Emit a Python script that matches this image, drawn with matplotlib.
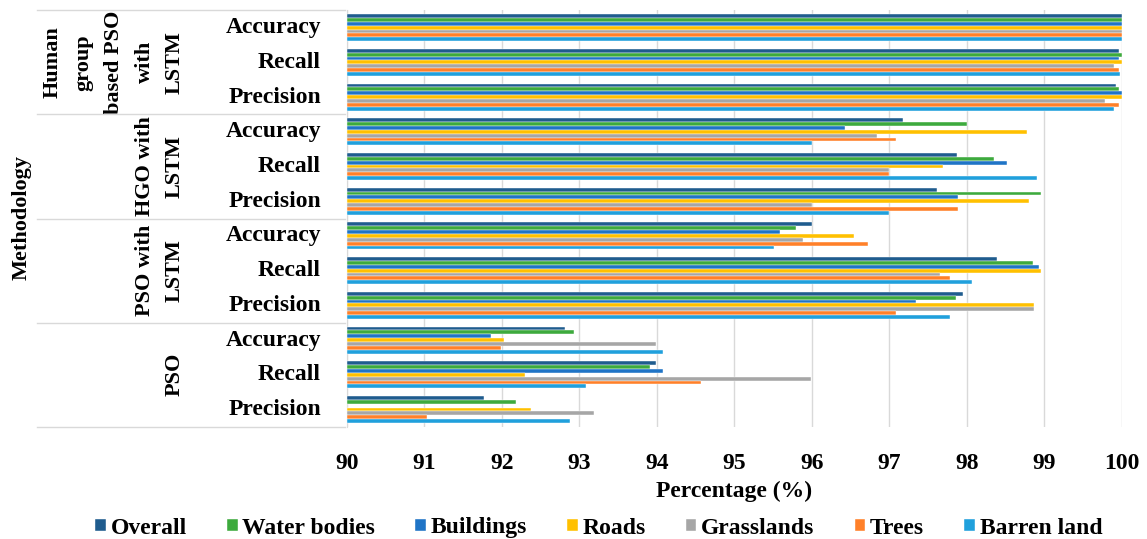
import numpy as np
import matplotlib
matplotlib.use('Agg')
import matplotlib.pyplot as plt
from matplotlib.transforms import blended_transform_factory
from matplotlib.lines import Line2D

plt.rcParams['font.family'] = ['Liberation Serif', 'DejaVu Serif']
plt.rcParams['font.weight'] = 'bold'

methods = ["Human\ngroup\nbased PSO\nwith\nLSTM", "HGO with\nLSTM", "PSO with\nLSTM", "PSO"]
metrics = ["Accuracy", "Recall", "Precision"]
series = ["Overall", "Water bodies", "Buildings", "Roads", "Grasslands", "Trees", "Barren land"]
colors = ["#1F5C8E", "#3DAA3D", "#1F74C6", "#FFC000", "#A6A6A6", "#FF8029", "#20A0DC"]

# rows: method x metric (top to bottom), columns: series
hgpso = [[100.0, 100.0, 100.0, 100.0, 100.0, 100.0, 100.0],
         [99.97, 100.0, 99.97, 100.0, 99.9, 99.97, 99.98],
         [99.92, 99.97, 100.0, 100.0, 99.78, 99.97, 99.9]]
hgo = [[97.18, 98.0, 96.43, 98.78, 96.84, 97.09, 96.0],
       [97.87, 98.35, 98.52, 97.69, 97.0, 97.0, 98.91],
       [97.61, 98.96, 97.88, 98.8, 96.0, 97.88, 97.0]]
pso_lstm = [[96.0, 95.79, 95.59, 96.55, 95.89, 96.73, 95.51],
            [98.39, 98.86, 98.93, 98.96, 97.66, 97.78, 98.07],
            [97.95, 97.86, 97.34, 98.87, 98.87, 97.08, 97.78]]
pso = [[92.82, 92.93, 91.86, 92.03, 93.99, 91.99, 94.08],
       [93.99, 93.91, 94.08, 92.3, 95.99, 94.57, 93.08],
       [91.77, 92.18, 89.5, 92.38, 93.19, 91.03, 92.88]]

data = np.array(hgpso + hgo + pso_lstm + pso)

fig = plt.figure(figsize=(11.47, 5.39), dpi=100)
ax = fig.add_axes([0.3025, 0.208, 0.6755, 0.773])

n = len(series)
group_h = 0.78
bh = group_h / n
ypos = np.arange(data.shape[0])
for j in range(n):
    off = -group_h / 2 + bh * (j + 0.5)
    ax.barh(ypos + off, data[:, j] - 90, left=90, height=bh, color=colors[j],
            edgecolor='white', linewidth=0.3, label=series[j], zorder=3)

fs = 17
ax.set_xlim(90, 100)
ax.set_ylim(11.5, -0.5)
ax.set_xticks(np.arange(90, 101, 1))
ax.tick_params(axis='x', length=0, labelsize=fs, pad=19)
ax.tick_params(axis='y', length=0)
ax.set_yticks([])
ax.grid(axis='x', color='#D9D9D9', linewidth=1, zorder=0)
for s in ['top', 'right', 'bottom']:
    ax.spines[s].set_visible(False)
ax.spines['left'].set_color('#D9D9D9')
ax.set_xlabel("Percentage (%)", fontsize=fs, fontweight='bold', labelpad=5)

# multi-level category labels
tr = blended_transform_factory(fig.transFigure, ax.transData)
for i in range(data.shape[0]):
    ax.text(321 / 1147, i, metrics[i % 3], transform=tr, ha='right', va='center',
            fontsize=fs, fontweight='bold')
for k, m in enumerate(methods):
    ax.text(185 / 1147, 3 * k + 1, m, transform=tr, ha='right', va='center',
            multialignment='center', rotation=90, fontsize=16, fontweight='bold',
            linespacing=1.7)
for b in [-0.5, 2.5, 5.5, 8.5, 11.5]:
    fig.add_artist(Line2D([37 / 1147, 345 / 1147], [b, b], transform=tr,
                          color='#D9D9D9', linewidth=1))

fig.text(22 / 1147, 1 - 217 / 539, "Methodology", rotation=90, ha='center', va='center',
         fontsize=16, fontweight='bold')

fig.legend(loc='center', bbox_to_anchor=(0.522, 1 - 528 / 539), ncol=7, frameon=False,
           fontsize=fs, handlelength=0.45, handleheight=0.45, handletextpad=0.2,
           columnspacing=1.7)

fig.savefig("out.png", dpi=100)
